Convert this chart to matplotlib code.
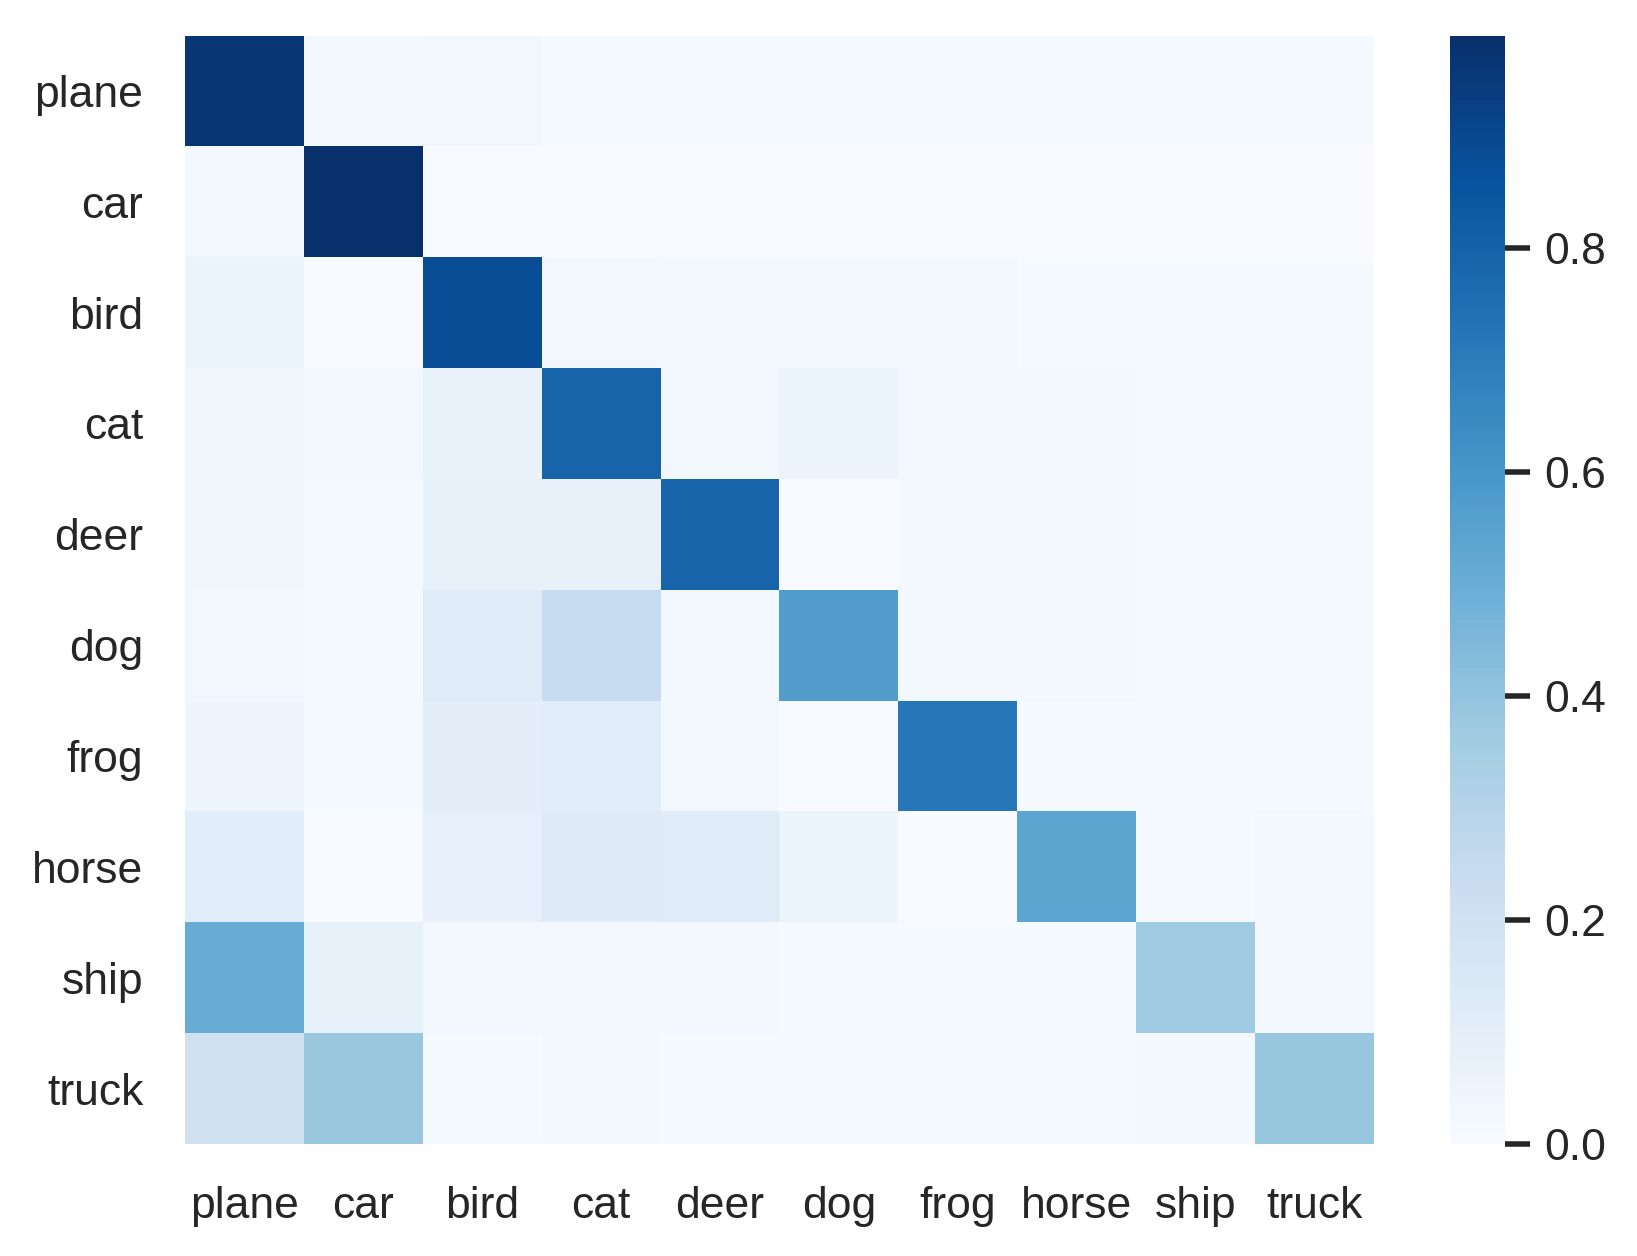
import numpy as np
import matplotlib
matplotlib.use("Agg")
import matplotlib.pyplot as plt
import seaborn as sns

classes = ['plane', 'car', 'bird', 'cat', 'deer', 'dog', 'frog', 'horse', 'ship', 'truck']

# rows = true class, columns = predicted class (fraction)
row_plane = [0.97, 0.02, 0.03, 0.01, 0.01, 0.01, 0.01, 0.01, 0.01, 0.01]
row_car   = [0.02, 0.99, 0.0, 0.0, 0.0, 0.0, 0.0, 0.0, 0.0, 0.0]
row_bird  = [0.06, 0.0, 0.88, 0.03, 0.02, 0.02, 0.02, 0.01, 0.01, 0.01]
row_cat   = [0.04, 0.03, 0.07, 0.79, 0.03, 0.06, 0.02, 0.02, 0.01, 0.01]
row_deer  = [0.04, 0.01, 0.075, 0.075, 0.79, 0.0, 0.02, 0.025, 0.01, 0.01]
row_dog   = [0.03, 0.01, 0.12, 0.25, 0.03, 0.57, 0.02, 0.02, 0.01, 0.01]
row_frog  = [0.05, 0.01, 0.10, 0.11, 0.03, 0.0, 0.72, 0.01, 0.01, 0.01]
row_horse = [0.11, 0.0, 0.085, 0.125, 0.12, 0.06, 0.0, 0.535, 0.01, 0.02]
row_ship  = [0.505, 0.08, 0.03, 0.03, 0.02, 0.01, 0.01, 0.01, 0.36, 0.02]
row_truck = [0.195, 0.385, 0.01, 0.025, 0.01, 0.01, 0.01, 0.01, 0.02, 0.39]

cm = np.array([row_plane, row_car, row_bird, row_cat, row_deer,
               row_dog, row_frog, row_horse, row_ship, row_truck])

sns.set_theme(style='white')
plt.rcParams['font.family'] = ['Liberation Sans', 'DejaVu Sans']

fig = plt.figure(figsize=(8.185, 6.28), dpi=200)
ax = fig.add_axes([0.113, 0.0892, 0.7263, 0.8825])
cax = fig.add_axes([0.8860, 0.0892, 0.0336, 0.8825])

sns.heatmap(cm, cmap='Blues', ax=ax, cbar_ax=cax,
            xticklabels=classes, yticklabels=classes)

ax.tick_params(axis='both', length=0, labelsize=16)
ax.tick_params(axis='y', pad=15, rotation=0)
ax.tick_params(axis='x', pad=15, rotation=0)
for lab in ax.get_yticklabels():
    lab.set_va('center_baseline')

cax.set_yticks([0.0, 0.2, 0.4, 0.6, 0.8])
cax.tick_params(axis='y', right=True, length=9, width=2, pad=5,
                labelsize=16, color='#262626', labelcolor='#262626')

fig.savefig('out.png', dpi=200)
